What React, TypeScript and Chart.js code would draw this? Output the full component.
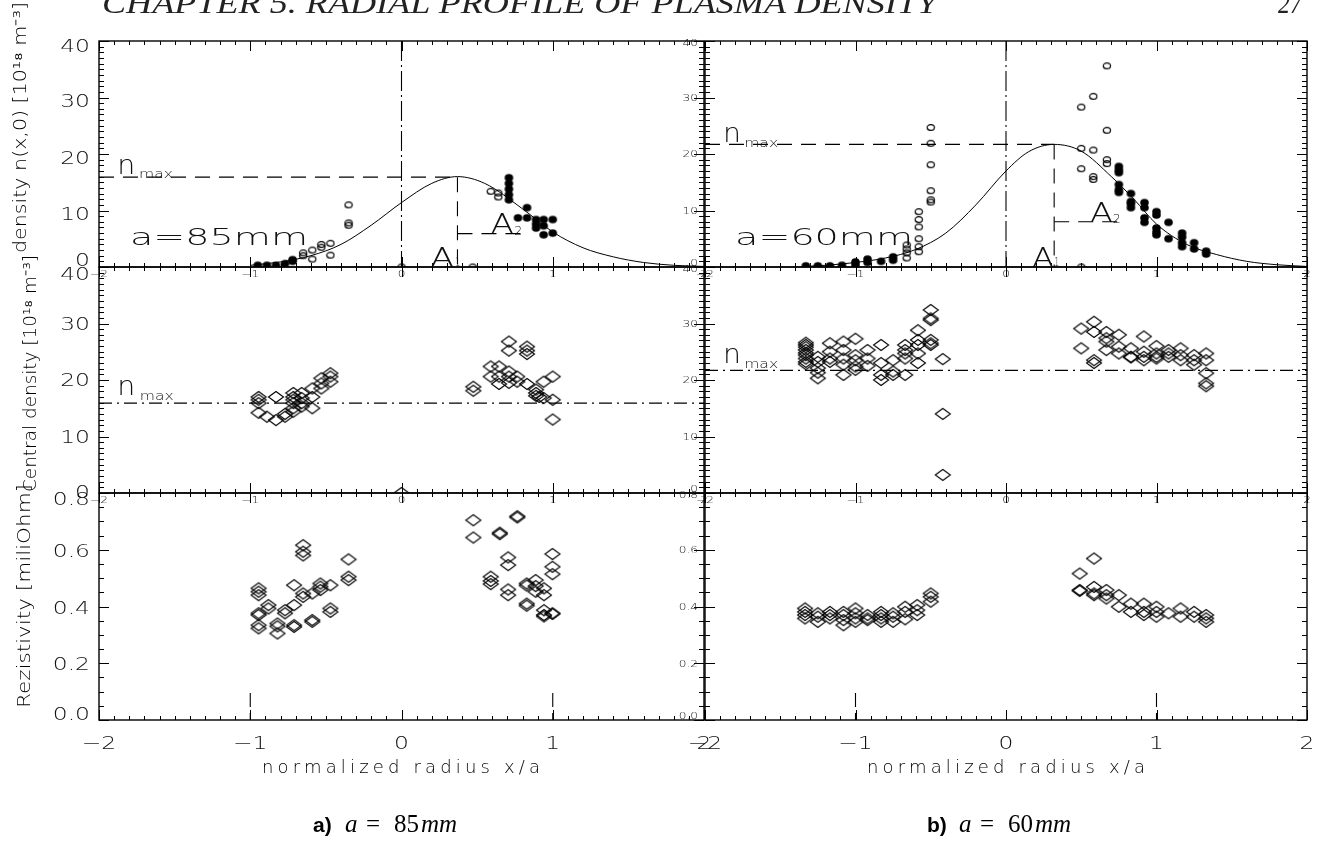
import React, { useEffect, useRef } from 'react';
import { Chart, registerables } from 'chart.js';
Chart.register(...registerables);

type P = [number, number];

// ---------------- data ----------------
// a) a = 85 mm : plasma density profile n(x,0)
const densA_open: P[] = [
  [-0.65, 2.0], [-0.65, 2.5], [-0.59, 3.0], [-0.59, 1.4], [-0.53, 3.5], [-0.53, 4.0],
  [-0.47, 4.2], [-0.47, 2.1], [-0.35, 11.0], [-0.35, 7.8], [-0.35, 7.4], [0.0, 0.0],
  [0.47, 0.0], [0.59, 13.4], [0.64, 13.1], [0.64, 12.4],
];
const densA_filled: P[] = [
  [-0.95, 0.3], [-0.89, 0.3], [-0.83, 0.3], [-0.77, 0.6], [-0.72, 1.0], [-0.72, 1.3],
  [0.71, 15.8], [0.71, 14.8], [0.71, 13.8], [0.71, 12.8], [0.71, 11.9],
  [0.77, 8.7], [0.83, 10.5], [0.83, 8.7], [0.89, 8.4], [0.89, 7.6], [0.89, 6.9],
  [0.94, 8.4], [0.94, 7.3], [0.94, 5.7], [1.0, 8.4], [1.0, 6.0],
];
const fitA_x = [-1.0, -0.8, -0.6, -0.4, -0.2, 0.0, 0.2, 0.37, 0.55, 0.8, 1.0, 1.2, 1.4, 1.6, 1.8, 2.0];
const fitA_y = [0.3, 0.9, 2.0, 4.0, 7.4, 11.4, 14.8, 16.0, 14.8, 10.3, 6.2, 3.4, 1.8, 0.8, 0.3, 0.1];

// b) a = 60 mm
const densB_open: P[] = [
  [-0.66, 3.9], [-0.66, 3.2], [-0.66, 2.5], [-0.66, 1.6],
  [-0.58, 9.8], [-0.58, 8.4], [-0.58, 7.1], [-0.58, 5.0], [-0.58, 3.6], [-0.58, 2.7],
  [-0.5, 24.7], [-0.5, 21.9], [-0.5, 18.1], [-0.5, 13.5], [-0.5, 11.9], [-0.5, 11.5],
  [0.5, 0.0], [0.5, 28.3], [0.5, 21.0], [0.5, 17.4], [0.58, 30.2], [0.58, 20.7], [0.58, 16.0],
  [0.58, 15.5], [0.67, 35.6], [0.67, 24.2], [0.67, 19.0], [0.67, 18.3],
];
const densB_filled: P[] = [
  [-1.33, 0.2], [-1.25, 0.2], [-1.17, 0.2], [-1.09, 0.3], [-1.0, 0.4], [-1.0, 0.9],
  [-0.92, 0.8], [-0.92, 1.4], [-0.83, 1.0], [-0.75, 1.2], [-0.75, 1.8],
  [0.75, 17.8], [0.75, 17.2], [0.75, 16.7], [0.75, 14.6], [0.75, 13.7], [0.75, 13.2],
  [0.83, 13.0], [0.83, 11.6], [0.83, 11.2], [0.83, 10.5],
  [0.92, 11.4], [0.92, 10.5], [0.92, 8.7], [0.92, 7.9],
  [1.0, 9.8], [1.0, 9.2], [1.0, 6.9], [1.0, 6.2], [1.0, 5.7],
  [1.08, 7.9], [1.08, 5.0], [1.17, 6.0], [1.17, 5.3], [1.17, 4.3], [1.17, 3.6],
  [1.25, 4.3], [1.25, 3.2], [1.33, 2.8], [1.33, 2.3],
];
const fitB_x = [-1.35, -1.2, -1.0, -0.8, -0.6, -0.4, -0.2, 0.0, 0.15, 0.32, 0.5, 0.7, 0.85, 1.0, 1.2, 1.4, 1.6, 1.8, 2.0];
const fitB_y = [0.1, 0.3, 0.8, 1.6, 3.1, 6.0, 11.0, 17.0, 20.4, 21.7, 20.5, 16.0, 12.0, 7.6, 4.0, 2.2, 1.0, 0.4, 0.1];

// central density
const cenA: P[] = [
  [-0.945, 17.0], [-0.945, 16.5], [-0.945, 15.9], [-0.945, 14.2], [-0.89, 13.5], [-0.83, 17.0],
  [-0.83, 12.9], [-0.77, 13.5], [-0.77, 14.0], [-0.715, 17.7], [-0.715, 17.0], [-0.715, 16.5],
  [-0.715, 15.9], [-0.715, 15.0], [-0.715, 14.4], [-0.66, 17.7], [-0.66, 16.8], [-0.66, 15.9],
  [-0.66, 15.3], [-0.59, 18.5], [-0.59, 17.0], [-0.59, 15.0], [-0.53, 20.3], [-0.53, 19.4],
  [-0.53, 18.5], [-0.47, 21.2], [-0.47, 20.6], [-0.47, 19.7], [0.0, 0.0],
  [0.475, 18.8], [0.475, 18.1], [0.59, 22.4], [0.59, 20.6], [0.645, 22.4], [0.645, 20.6],
  [0.645, 19.3], [0.71, 26.8], [0.71, 25.2], [0.71, 21.5], [0.71, 20.6], [0.71, 19.5],
  [0.765, 20.6], [0.765, 19.7], [0.83, 25.9], [0.83, 25.2], [0.83, 24.6], [0.83, 19.3],
  [0.89, 18.3], [0.89, 17.7], [0.89, 17.2], [0.91, 17.0], [0.94, 19.7], [0.94, 16.8],
  [1.0, 20.6], [1.0, 16.5], [1.0, 13.0],
];
const cenB: P[] = [
  [-1.33, 26.6], [-1.33, 26.2], [-1.33, 25.8], [-1.33, 25.3], [-1.33, 24.8], [-1.33, 24.4],
  [-1.33, 23.8], [-1.33, 23.2], [-1.33, 22.8], [-1.25, 24.1], [-1.25, 23.2], [-1.25, 22.1],
  [-1.25, 21.3], [-1.25, 20.3], [-1.17, 26.5], [-1.17, 25.0], [-1.17, 23.8], [-1.17, 23.2],
  [-1.08, 26.8], [-1.08, 25.3], [-1.08, 23.8], [-1.08, 22.7], [-1.08, 20.9],
  [-1.0, 27.3], [-1.0, 24.4], [-1.0, 23.5], [-1.0, 22.4], [-1.0, 21.8],
  [-0.92, 25.3], [-0.92, 23.8], [-0.92, 22.5], [-0.83, 26.2], [-0.83, 23.0], [-0.83, 20.9],
  [-0.83, 20.0], [-0.75, 23.5], [-0.75, 21.5], [-0.75, 20.9], [-0.67, 26.2], [-0.67, 25.3],
  [-0.67, 24.7], [-0.67, 23.8], [-0.67, 20.9], [-0.585, 28.8], [-0.585, 27.1], [-0.585, 26.2],
  [-0.585, 24.7], [-0.585, 23.0], [-0.5, 32.4], [-0.5, 30.9], [-0.5, 30.6], [-0.5, 27.1],
  [-0.5, 26.5], [-0.5, 26.2], [-0.42, 23.7], [-0.42, 14.0], [-0.42, 3.2],
  [0.5, 29.1], [0.5, 25.6], [0.585, 30.3], [0.585, 28.5], [0.585, 23.5], [0.585, 23.0],
  [0.667, 28.5], [0.667, 27.4], [0.667, 26.8], [0.667, 25.3], [0.75, 28.0], [0.75, 25.9],
  [0.75, 24.7], [0.83, 25.6], [0.83, 24.1], [0.83, 24.0], [0.916, 27.7], [0.916, 25.0],
  [0.916, 24.1], [0.916, 23.5], [1.0, 26.0], [1.0, 24.7], [1.0, 24.1], [1.0, 23.8],
  [1.08, 25.3], [1.08, 24.7], [1.08, 24.1], [1.16, 25.6], [1.16, 24.4], [1.16, 23.5],
  [1.25, 24.4], [1.25, 23.5], [1.25, 22.7], [1.33, 24.7], [1.33, 23.5], [1.33, 21.2],
  [1.33, 19.4], [1.33, 18.9],
];

// resistivity
const resA: P[] = [
  [-0.945, 0.464], [-0.945, 0.452], [-0.945, 0.44], [-0.945, 0.376], [-0.945, 0.37],
  [-0.945, 0.334], [-0.945, 0.323], [-0.88, 0.405], [-0.88, 0.393], [-0.82, 0.34],
  [-0.82, 0.33], [-0.82, 0.305], [-0.77, 0.387], [-0.77, 0.376], [-0.71, 0.475],
  [-0.71, 0.405], [-0.71, 0.334], [-0.71, 0.328], [-0.65, 0.616], [-0.65, 0.593],
  [-0.65, 0.58], [-0.65, 0.446], [-0.65, 0.434], [-0.59, 0.446], [-0.59, 0.346],
  [-0.59, 0.352], [-0.536, 0.481], [-0.536, 0.47], [-0.536, 0.458], [-0.47, 0.475],
  [-0.47, 0.393], [-0.47, 0.381], [-0.35, 0.566], [-0.35, 0.505], [-0.35, 0.493],
  [0.475, 0.704], [0.475, 0.643], [0.59, 0.505], [0.59, 0.49], [0.59, 0.479],
  [0.65, 0.66], [0.65, 0.655], [0.705, 0.573], [0.705, 0.546], [0.705, 0.46], [0.705, 0.44],
  [0.766, 0.718], [0.766, 0.714], [0.828, 0.481], [0.828, 0.474], [0.828, 0.41], [0.828, 0.403],
  [0.887, 0.493], [0.887, 0.472], [0.887, 0.452], [0.942, 0.464], [0.942, 0.44], [0.942, 0.387],
  [0.942, 0.37], [0.942, 0.365], [0.998, 0.585], [0.998, 0.54], [0.998, 0.514], [0.998, 0.376],
  [0.998, 0.374],
];
const resB: P[] = [
  [-1.335, 0.393], [-1.335, 0.381], [-1.335, 0.37], [-1.335, 0.358], [-1.25, 0.376],
  [-1.25, 0.364], [-1.25, 0.346], [-1.17, 0.381], [-1.17, 0.37], [-1.17, 0.358],
  [-1.08, 0.381], [-1.08, 0.37], [-1.08, 0.352], [-1.08, 0.334], [-1.0, 0.393], [-1.0, 0.376],
  [-1.0, 0.358], [-1.0, 0.346], [-0.92, 0.37], [-0.92, 0.358], [-0.92, 0.352], [-0.83, 0.381],
  [-0.83, 0.37], [-0.83, 0.358], [-0.83, 0.346], [-0.75, 0.376], [-0.75, 0.364], [-0.75, 0.346],
  [-0.67, 0.399], [-0.67, 0.381], [-0.67, 0.355], [-0.59, 0.405], [-0.59, 0.387], [-0.59, 0.37],
  [-0.5, 0.446], [-0.5, 0.434], [-0.5, 0.417], [0.49, 0.516], [0.49, 0.458], [0.49, 0.455],
  [0.585, 0.569], [0.585, 0.469], [0.585, 0.446], [0.585, 0.44], [0.667, 0.458], [0.667, 0.44],
  [0.667, 0.428], [0.75, 0.44], [0.75, 0.399], [0.83, 0.41], [0.83, 0.381], [0.916, 0.41],
  [0.916, 0.381], [0.916, 0.37], [1.0, 0.399], [1.0, 0.381], [1.0, 0.364], [1.08, 0.376],
  [1.16, 0.393], [1.16, 0.364], [1.25, 0.381], [1.25, 0.364], [1.33, 0.37], [1.33, 0.358],
  [1.33, 0.346],
];

// reference levels (n_max, peak position, A2 level and end)
const refA = [15.9, 0.37, 5.9, 0.83];
const refB = [21.7, 0.32, 8.0, 0.79];
const A1_EDGES = [-1, 1];
const A1_HEIGHT = 0.095;

// ticks
const X_TICKS = [-2, -1, 0, 1, 2];
const X_LABELS = ['\u22122', '\u22121', '0', '1', '2'];
const DENS_TICKS = [0, 10, 20, 30, 40];
const DENS_LABELS = ['0', '10', '20', '30', '40'];
const RES_TICKS = [0, 0.2, 0.4, 0.6, 0.8];
const RES_LABELS = ['0.0', '0.2', '0.4', '0.6', '0.8'];

// ---------------- layout ----------------
const COLS = [{ left: 99, right: 704 }, { left: 705, right: 1307 }];
const ROWS = [{ top: 41, bottom: 267 }, { top: 267, bottom: 493 }, { top: 493, bottom: 720 }];
const PAD = { left: 100, right: 40, top: 40, bottom: 60 };
const FONT = '"DejaVu Sans", "Liberation Sans", sans-serif';
const FW = '200';
const INK = '#111';

type T = { t: string; x: number; y: number; size: number; w: number };
interface Spec {
  col: number; row: number; yMin: number; yMax: number; yMinor: number; yMajorEvery: number;
  yTicks: number[]; yLabels: string[]; yDy: number[]; texts: T[]; build: () => any[];
}

let MK: any = null;
function markers() {
  if (MK) return MK;
  const mk = (w: number, h: number, draw: (g: CanvasRenderingContext2D) => void) => {
    const c = document.createElement('canvas');
    c.width = w; c.height = h;
    const g = c.getContext('2d')!;
    g.strokeStyle = '#000'; g.fillStyle = '#000';
    draw(g);
    return c;
  };
  MK = {
    diamond: mk(18, 14, (g) => {
      g.lineWidth = 1.1; g.beginPath(); g.moveTo(1.5, 7); g.lineTo(9, 1.5); g.lineTo(16.5, 7); g.lineTo(9, 12.5); g.closePath(); g.stroke();
    }),
    open: mk(10, 9, (g) => {
      g.lineWidth = 1.2; g.beginPath(); g.ellipse(5, 4.5, 3.6, 2.9, 0, 0, Math.PI * 2); g.stroke();
    }),
    filled: mk(11, 10, (g) => {
      g.beginPath(); g.ellipse(5.5, 5, 4.3, 3.8, 0, 0, Math.PI * 2); g.fill();
    }),
  };
  return MK;
}

const pts = (d: P[]) => d.map(([x, y]) => ({ x, y }));
const scat = (d: P[], style: any) => ({ data: pts(d), pointStyle: style, pointRadius: 6, showLine: false });
const seg = (d: P[], dash: number[], w = 1.1) => ({
  data: pts(d), showLine: true, pointRadius: 0, borderColor: '#000', borderWidth: w, borderDash: dash, fill: false,
});
const curve = (xs: number[], ys: number[]) => ({
  data: xs.map((x, i) => ({ x, y: ys[i] })), showLine: true, pointRadius: 0, borderColor: '#000',
  borderWidth: 1, fill: false, cubicInterpolationMode: 'monotone',
});
const DASH = [15, 9];
const DASHDOT = [20, 4, 2, 4];
const DASHDOT2 = [13, 5, 2, 5];

const topSpec = (col: number, open: P[], filled: P[], fx: number[], fy: number[], ref: number[], texts: T[]): Spec => ({
  col, row: 0, yMin: 0, yMax: 40, yMinor: 1, yMajorEvery: 10, yTicks: DENS_TICKS, yLabels: DENS_LABELS,
  yDy: [-6, 5, 5, 5, 6.5], texts,
  build: () => [
    curve(fx, fy),
    seg([[0, 40], [0, 0]], DASHDOT),
    seg([[-2, ref[0]], [ref[1], ref[0]]], DASH),
    seg([[ref[1], ref[0]], [ref[1], 0]], DASH),
    seg([[ref[1], ref[2]], [ref[3], ref[2]]], DASH),
    scat(open, markers().open),
    scat(filled, markers().filled),
  ],
});
const midSpec = (col: number, data: P[], ref: number[], texts: T[]): Spec => ({
  col, row: 1, yMin: 0, yMax: 40, yMinor: 1, yMajorEvery: 10, yTicks: DENS_TICKS, yLabels: DENS_LABELS,
  yDy: [0, 1.5, 1.5, 1.5, 8], texts,
  build: () => [
    seg([[-2, ref[0]], [2, ref[0]]], DASHDOT2),
    scat(data, markers().diamond),
  ],
});
const botSpec = (col: number, data: P[]): Spec => ({
  col, row: 2, yMin: 0, yMax: 0.8, yMinor: 0.05, yMajorEvery: 4, yTicks: RES_TICKS, yLabels: RES_LABELS,
  yDy: [-4.5, 2.5, 2.5, 2.5, 7], texts: [],
  build: () => [
    ...A1_EDGES.map((e) => seg([[e, A1_HEIGHT], [e, 0]], [14, 6])),
    scat(data, markers().diamond),
  ],
});

const SPECS: Spec[] = [
  topSpec(0, densA_open, densA_filled, fitA_x, fitA_y, refA, [
    { t: 'n', x: -1.88, y: 16.4, size: 26, w: 18 },
    { t: 'max', x: -1.735, y: 15.8, size: 12, w: 34 },
    { t: 'a=85mm', x: -1.795, y: 3.9, size: 23, w: 178 },
    { t: 'A', x: 0.59, y: 6.0, size: 27, w: 23 },
    { t: '2', x: 0.745, y: 5.6, size: 12, w: 8 },
    { t: 'A', x: 0.19, y: 0.0, size: 27, w: 24 },
    { t: '1', x: 0.355, y: 0.2, size: 12, w: 5 },
  ]),
  topSpec(1, densB_open, densB_filled, fitB_x, fitB_y, refB, [
    { t: 'n', x: -1.88, y: 22.2, size: 26, w: 18 },
    { t: 'max', x: -1.74, y: 21.3, size: 12, w: 34 },
    { t: 'a=60mm', x: -1.8, y: 3.9, size: 23, w: 178 },
    { t: 'A', x: 0.558, y: 8.0, size: 27, w: 23 },
    { t: '2', x: 0.71, y: 7.7, size: 12, w: 8 },
    { t: 'A', x: 0.173, y: 0.0, size: 27, w: 22 },
    { t: '1', x: 0.32, y: 0.2, size: 12, w: 5 },
  ]),
  midSpec(0, cenA, refA, [
    { t: 'n', x: -1.88, y: 17.3, size: 26, w: 18 },
    { t: 'max', x: -1.73, y: 16.5, size: 12, w: 34 },
  ]),
  midSpec(1, cenB, refB, [
    { t: 'n', x: -1.88, y: 23.0, size: 26, w: 18 },
    { t: 'max', x: -1.74, y: 22.1, size: 12, w: 34 },
  ]),
  botSpec(0, resA),
  botSpec(1, resB),
];

function drawTxt(ctx: CanvasRenderingContext2D, s: string, x: number, y: number, size: number, hs: number,
  align: CanvasTextAlign, base: CanvasTextBaseline, w?: number) {
  ctx.save();
  ctx.font = `${FW} ${size}px ${FONT}`;
  ctx.textAlign = align; ctx.textBaseline = base; ctx.fillStyle = INK;
  let k = hs;
  if (w) k = w / ctx.measureText(s).width;
  ctx.translate(x, y); ctx.scale(k, 1); ctx.fillText(s, 0, 0);
  ctx.restore();
}

function axesPlugin(spec: Spec) {
  return {
    id: 'idlAxes',
    afterDraw(chart: any) {
      const { ctx, chartArea: a, scales } = chart;
      const xs = scales.x, ys = scales.y;
      ctx.save();
      ctx.setLineDash([]);
      ctx.strokeStyle = '#000';
      ctx.lineWidth = 1.4;
      ctx.strokeRect(a.left, a.top, a.right - a.left, a.bottom - a.top);
      ctx.lineWidth = 1;
      ctx.beginPath();
      for (let i = 0; i <= 40; i++) {
        const px = Math.round(xs.getPixelForValue(-2 + i * 0.1)) + 0.5;
        const len = i % 10 === 0 ? 10 : 4;
        ctx.moveTo(px, a.bottom); ctx.lineTo(px, a.bottom - len);
        ctx.moveTo(px, a.top); ctx.lineTo(px, a.top + len);
      }
      const n = Math.round((spec.yMax - spec.yMin) / spec.yMinor);
      for (let i = 0; i <= n; i++) {
        const py = Math.round(ys.getPixelForValue(spec.yMin + i * spec.yMinor)) + 0.5;
        const len = i % spec.yMajorEvery === 0 ? 10 : 5;
        ctx.moveTo(a.left, py); ctx.lineTo(a.left + len, py);
        ctx.moveTo(a.right, py); ctx.lineTo(a.right - len, py);
      }
      ctx.stroke();

      const leftCol = spec.col === 0;
      const bottomRow = spec.row === 2;
      // y tick labels
      spec.yTicks.forEach((v, i) => {
        const py = ys.getPixelForValue(v);
        if (leftCol) drawTxt(ctx, spec.yLabels[i], a.left - 9, py + spec.yDy[i], 18, 1.3, 'right', 'middle');
        else drawTxt(ctx, spec.yLabels[i], a.left - 7, py + (i === 0 ? -3 : i === spec.yTicks.length - 1 ? 3 : 1), 9, 1.35, 'right', 'middle');
      });
      // x tick labels
      X_TICKS.forEach((v, i) => {
        const px = xs.getPixelForValue(v);
        if (bottomRow) drawTxt(ctx, X_LABELS[i], px, a.bottom + 24, 18, 1.3, 'center', 'middle');
        else drawTxt(ctx, X_LABELS[i], px, a.bottom + 8, 9, 1.35, 'center', 'middle');
      });
      // annotations
      spec.texts.forEach((t) => {
        drawTxt(ctx, t.t, xs.getPixelForValue(t.x), ys.getPixelForValue(t.y), t.size, 1, 'left', 'alphabetic', t.w);
      });
      ctx.restore();
    },
  };
}

function Panel({ spec }: { spec: Spec }) {
  const ref = useRef<HTMLCanvasElement>(null);
  const col = COLS[spec.col], row = ROWS[spec.row];
  const w = col.right - col.left + PAD.left + PAD.right;
  const h = row.bottom - row.top + PAD.top + PAD.bottom;
  useEffect(() => {
    const chart = new Chart(ref.current!, {
      type: 'scatter',
      data: { datasets: spec.build() as any },
      options: {
        responsive: false, animation: false, devicePixelRatio: 1, events: [],
        layout: { padding: PAD },
        plugins: { legend: { display: false }, tooltip: { enabled: false }, title: { display: false } },
        scales: {
          x: { type: 'linear', min: -2, max: 2, display: false },
          y: { type: 'linear', min: spec.yMin, max: spec.yMax, display: false },
        },
      } as any,
      plugins: [axesPlugin(spec)],
    });
    return () => chart.destroy();
  }, [spec]);
  return (
    <canvas ref={ref} width={w} height={h}
      style={{ position: 'absolute', left: col.left - PAD.left, top: row.top - PAD.top, width: w, height: h }} />
  );
}

const SERIF = '"Liberation Serif", "DejaVu Serif", serif';
const SANS = '"DejaVu Sans", "Liberation Sans", sans-serif';

function Caption({ x, label, val }: { x: number; label: string; val: string }) {
  return (
    <text y={832} fontFamily={SERIF} fontSize={25} fill="#000">
      <tspan x={x} fontFamily='"Liberation Sans", Arial, sans-serif' fontWeight="bold" fontSize={21}>{label}</tspan>
      <tspan x={x + 32} fontStyle="italic">a</tspan>
      <tspan x={x + 53}>=</tspan>
      <tspan x={x + 81}>{val}</tspan>
      <tspan x={x + 108} fontStyle="italic">mm</tspan>
    </text>
  );
}

export default function App() {
  return (
    <div style={{ position: 'absolute', left: 0, top: 0, width: 1319, height: 850, background: '#fff', overflow: 'hidden' }}>
      {SPECS.map((s, i) => <Panel key={i} spec={s} />)}
      <svg width={1319} height={850} style={{ position: 'absolute', left: 0, top: 0, pointerEvents: 'none' }}>
        <text x={102} y={13} fontFamily={SERIF} fontStyle="italic" fontWeight="normal" fontSize={30} textLength={835} lengthAdjust="spacingAndGlyphs" fill="#222">CHAPTER 5.  RADIAL PROFILE OF PLASMA DENSITY</text>
        <text x={1278} y={13} fontFamily={SERIF} fontStyle="italic" fontWeight="normal" fontSize={30} textLength={24} lengthAdjust="spacingAndGlyphs" fill="#222">27</text>
        <text transform="translate(26,253) rotate(-90)" fontFamily={SANS} fontWeight={200} fontSize={17} textLength={251} lengthAdjust="spacingAndGlyphs">density n(x,0) [10¹⁸ m⁻³]</text>
        <text transform="translate(36,492) rotate(-90)" fontFamily={SANS} fontWeight={200} fontSize={17} textLength={237} lengthAdjust="spacingAndGlyphs">Central density [10¹⁸ m⁻³]</text>
        <text transform="translate(30,708) rotate(-90)" fontFamily={SANS} fontWeight={200} fontSize={17} textLength={224} lengthAdjust="spacingAndGlyphs">Rezistivity [miliOhm]</text>
        <text x={262} y={773} fontFamily={SANS} fontWeight={200} fontSize={18} textLength={278} lengthAdjust="spacing">normalized radius x/a</text>
        <text x={867} y={773} fontFamily={SANS} fontWeight={200} fontSize={18} textLength={278} lengthAdjust="spacing">normalized radius x/a</text>
        <Caption x={313} label="a)" val="85" />
        <Caption x={927} label="b)" val="60" />
      </svg>
    </div>
  );
}
